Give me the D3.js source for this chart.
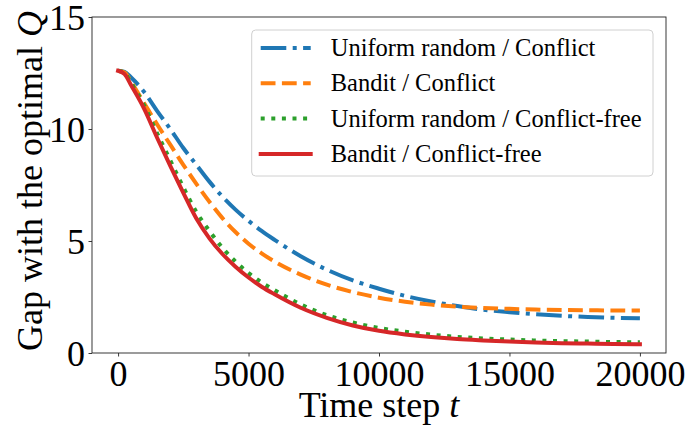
<!DOCTYPE html>
<html><head><meta charset="utf-8">
<script src="https://cdn.jsdelivr.net/npm/d3@7"></script>
<style>body{margin:0;background:#fff}svg{display:block}</style>
</head><body>
<svg id="c" width="689" height="431"></svg>
<script>
const times = [0,250,500,1000,1500,2000,2500,3000,3500,4000,4500,5000,5500,6000,7000,8000,9000,10000,11000,12000,13000,14000,15000,16000,17000,18000,19000,20000];
const uniformConflict = [12.6,12.55,12.3,11.65,10.8,10.0,9.15,8.4,7.65,6.98,6.4,5.9,5.45,5.05,4.32,3.72,3.24,2.87,2.55,2.3,2.1,1.93,1.82,1.73,1.66,1.61,1.57,1.55];
const banditConflict = [12.6,12.52,12.1,11.15,10.2,9.3,8.4,7.55,6.75,6.02,5.4,4.88,4.45,4.08,3.5,3.05,2.72,2.47,2.29,2.16,2.07,2.01,1.97,1.94,1.92,1.91,1.9,1.9];
const uniformFree = [12.6,12.5,12.05,11.05,9.8,8.6,7.4,6.3,5.45,4.7,4.08,3.57,3.15,2.8,2.17,1.69,1.36,1.12,0.95,0.82,0.72,0.65,0.60,0.56,0.53,0.51,0.49,0.48];
const banditFree = [12.6,12.45,11.95,10.9,9.6,8.35,7.15,6.0,5.12,4.42,3.85,3.37,2.96,2.62,2.02,1.57,1.23,0.99,0.83,0.71,0.62,0.56,0.51,0.47,0.44,0.42,0.40,0.39];
const seriesNames = ["Uniform random / Conflict","Bandit / Conflict","Uniform random / Conflict-free","Bandit / Conflict-free"];
const xTicks = [0,5000,10000,15000,20000];
const yTicks = [0,5,10,15];

const styles = [
  {color:"#1f77b4", dash:"25.6,6.4,4,6.4", cap:"butt"},
  {color:"#ff7f0e", dash:"14.8,6.4", cap:"butt"},
  {color:"#2ca02c", dash:"4,6.6", cap:"butt"},
  {color:"#d62728", dash:null, cap:"square"}
];
const allSeries = [uniformConflict, banditConflict, uniformFree, banditFree];

const L=92, R=666, T=17, B=353;
const x = d3.scaleLinear().domain([-1000,21000]).range([L,R]);
const y = d3.scaleLinear().domain([0,15]).range([B,T]);
const svg = d3.select("#c");
const font = "'Liberation Serif','Times New Roman',serif";

const line = d3.line().x((d,i)=>x(times[i])).y(d=>y(d)).curve(d3.curveMonotoneX);
const g = svg.append("g");
allSeries.forEach((s,k)=>{
  g.append("path").attr("d", line(s)).attr("fill","none")
    .attr("stroke", styles[k].color).attr("stroke-width",4)
    .attr("stroke-dasharray", styles[k].dash).attr("stroke-linecap", styles[k].cap)
    .attr("stroke-linejoin","round");
});

// axes
const xa = svg.append("g").attr("transform",`translate(0,${B})`)
  .call(d3.axisBottom(x).tickValues(xTicks).tickSize(3.5).tickPadding(3.5).tickFormat(d3.format("d")));
const ya = svg.append("g").attr("transform",`translate(${L},0)`)
  .call(d3.axisLeft(y).tickValues(yTicks).tickSize(3.5).tickPadding(3.5).tickFormat(d3.format("d")));
[xa,ya].forEach(a=>{
  a.select(".domain").remove();
  a.selectAll("line").attr("stroke","#222").attr("stroke-width",0.9);
  a.selectAll("text").attr("font-family",font).attr("font-size",36).attr("fill","#000");
});
xa.selectAll("text").attr("dy","0.72em");
ya.selectAll("text").attr("dy","0.34em");

svg.append("rect").attr("x",L).attr("y",T).attr("width",R-L).attr("height",B-T)
  .attr("fill","none").attr("stroke","#222").attr("stroke-width",0.9);

// axis labels
const xl = svg.append("text").attr("x",(L+R)/2).attr("y",417).attr("text-anchor","middle")
  .attr("font-family",font).attr("font-size",36);
xl.append("tspan").text("Time step ");
xl.append("tspan").attr("font-style","italic").text("t");
const yl = svg.append("text").attr("transform",`translate(41.5,${(T+B)/2-4}) rotate(-90)`).attr("text-anchor","middle")
  .attr("font-family",font).attr("font-size",36);
yl.append("tspan").text("Gap with the optimal ");
yl.append("tspan").attr("font-style","italic").text("Q");

// legend
const lg = svg.append("g");
lg.append("rect").attr("x",251.7).attr("y",30).attr("width",401.3).attr("height",146).attr("rx",4)
  .attr("fill","#fff").attr("fill-opacity",0.8).attr("stroke","#d0d0d0").attr("stroke-width",1);
seriesNames.forEach((n,k)=>{
  const by = 56 + k*35.3;
  lg.append("line").attr("x1",260.7).attr("x2",310.7).attr("y1",by-8).attr("y2",by-8)
    .attr("stroke",styles[k].color).attr("stroke-width",4)
    .attr("stroke-dasharray",styles[k].dash).attr("stroke-linecap",styles[k].cap);
  lg.append("text").attr("x",330.7).attr("y",by).attr("font-family",font).attr("font-size",24.5).text(n);
});
</script>
</body></html>
